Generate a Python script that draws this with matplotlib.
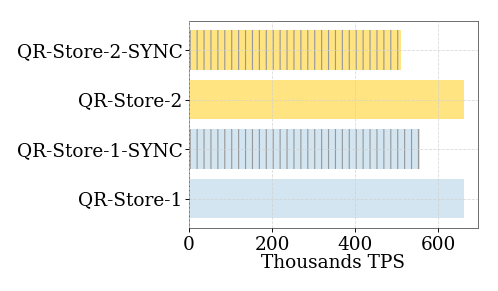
import numpy as np
from matplotlib import pyplot as plt

labels = ["QR-Store-1", "QR-Store-1-SYNC", "QR-Store-2", "QR-Store-2-SYNC"]
tps = [661, 555, 661, 511]   # thousands TPS
colors = ["#d2e5f1", "#d2e5f1", "#ffe481", "#ffe481"]
hatches = ["", "||", "", "||"]

plt.rcParams["font.family"] = "DejaVu Serif"
plt.rcParams["hatch.linewidth"] = 1.0

fig = plt.figure(figsize=(498/83, 291/83), dpi=83)
ax = fig.add_axes([0.3795, 0.2175, 0.5795, 0.7105])

y = np.arange(len(labels))
for i in range(len(labels)):
    ax.barh(y[i], tps[i], height=0.8, color=colors[i], edgecolor="#999999",
            linewidth=0, hatch=hatches[i])

ax.set_yticks(y)
ax.set_yticklabels(labels, fontsize=16)
ax.tick_params(axis="y", pad=2)
ax.tick_params(axis="x", labelsize=16)
ax.set_xticks([0, 200, 400, 600])
ax.set_xlabel("Thousands TPS", fontsize=16, labelpad=0)
ax.set_axisbelow(False)
ax.grid(True, linestyle="--", color="#d0d0d0", linewidth=0.7, alpha=0.8)
for s in ax.spines.values():
    s.set_color("#666666")

fig.savefig("out.png", dpi=83)
